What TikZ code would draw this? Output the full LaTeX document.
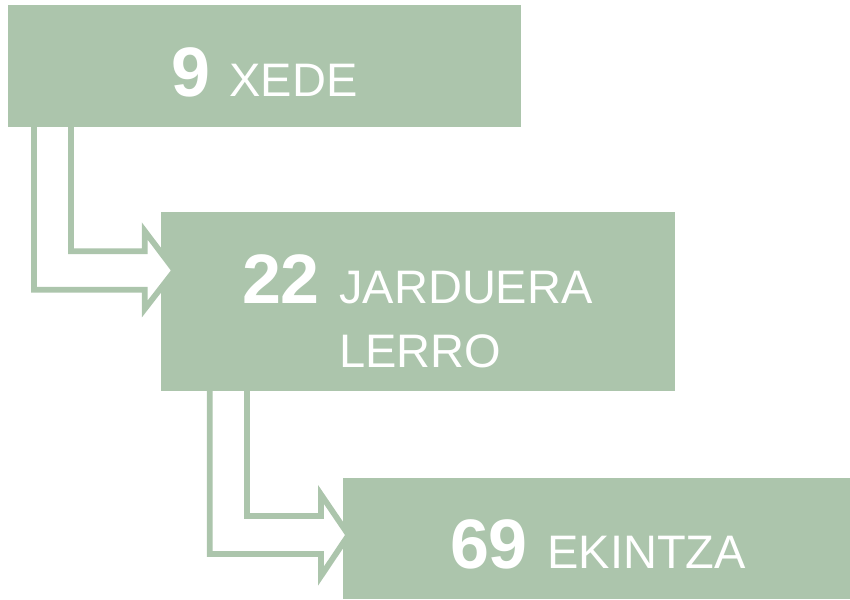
\documentclass[tikz,border=0pt]{standalone}
\usepackage{fontspec}
\setmainfont{Liberation Sans}
\usetikzlibrary{calc}
\definecolor{sage}{RGB}{172,197,172}
\tikzset{
  box/.style={fill=sage, draw=none, inner sep=0pt, outer sep=0pt},
  bentarrow/.style={draw=sage, fill=white, line width=5.8pt, line join=miter, line cap=butt},
  lbl/.style={text=white, inner sep=0pt, outer sep=0pt, anchor=base west},
}
\newcommand{\bignum}[1]{{\fontsize{70}{80}\selectfont\bfseries #1 }}
\newcommand{\wrd}[1]{{\fontsize{47}{56}\selectfont #1}}
\begin{document}
\begin{tikzpicture}[x=1pt,y=-1pt]
\useasboundingbox (0,0) rectangle (850,599);
% boxes
\node[box, minimum width=513pt, minimum height=122pt, anchor=north west] (box1) at (8,5) {};
\node[box, minimum width=514pt, minimum height=179pt, anchor=north west] (box2) at (161,212) {};
\node[box, minimum width=507pt, minimum height=121pt, anchor=north west] (box3) at (343,478) {};
% arrow 1
\draw[bentarrow]
  ($(box1.south west)+(26,0)$) coordinate (a1s)
  |- ($(box2.west)+(-16.3,-11.8)$) coordinate (a1b)
  -- ++(0,19.3) -- ($(box2.west)+(13.5,-31)$) coordinate (a1tip)
  -- ($(a1b)+(0,-58.7)$) -- ++(0,20.3)
  -| ($(box1.south west)+(63,0)$);
% arrow 2
\draw[bentarrow]
  ($(box2.south west)+(48.7,0)$)
  |- ($(box3.west)+(-22,15.5)$) coordinate (a2b)
  -- ++(0,22) -- ($(box3.west)+(5.5,-3.5)$) coordinate (a2tip)
  -- ($(a2b)+(0,-59.5)$) -- ++(0,21.5)
  -| ($(box2.south west)+(86,0)$);
% labels
\node[lbl] (t1) at (171,97) {\bignum{9}\wrd{XEDE}};
\node[lbl] (t2) at (242,303) {\bignum{22}\wrd{JARDUERA}};
\node[lbl] (t3) at (339,367) {\wrd{LERRO}};
\node[lbl] (t4) at (450,568) {\bignum{69}\wrd{EKINTZA}};
\end{tikzpicture}
\end{document}
